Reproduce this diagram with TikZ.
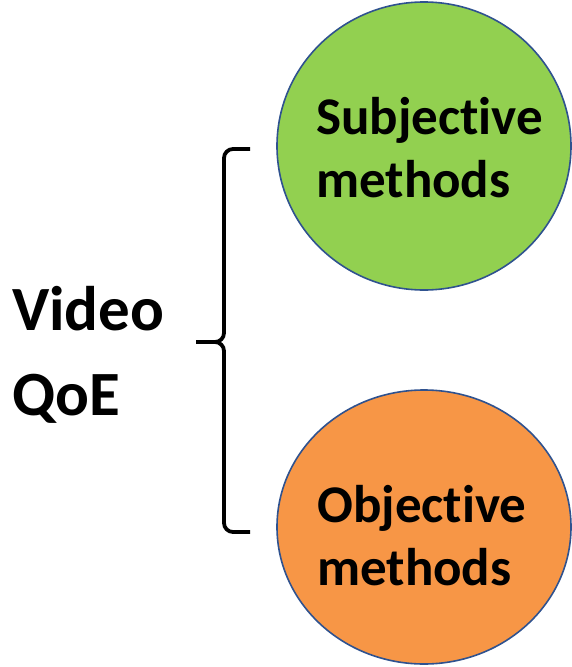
\documentclass[tikz,border=0pt]{standalone}
\usepackage{fontspec}
\setmainfont[Ligatures=NoCommon]{Carlito}
\usepackage{tikz}
\usetikzlibrary{shapes.geometric}

\definecolor{subjgreen}{HTML}{92D050}
\definecolor{objorange}{HTML}{F79646}
\definecolor{rimblue}{HTML}{2F528F}

\begin{document}
\begin{tikzpicture}[x=1pt, y=-1pt,
        method/.style={draw=rimblue, line width=1.6pt, ellipse, inner sep=0pt},
        label/.style={inner sep=0pt, align=left, anchor=base west, font=\bfseries\fontsize{53}{63}\selectfont},
        brace/.style={line width=3.8pt, rounded corners=9pt}]
        \useasboundingbox (0,0) rectangle (571,667);

        % Methods
        \node[method, fill=subjgreen, minimum width=294pt, minimum height=288pt] (subj) at (424,146) {};
        \node[method, fill=objorange, minimum width=294pt, minimum height=274pt] (obj) at (424,527) {};
        \node[label] (subjtxt) at (316,197) {Subjective\\methods};
        \node[label] (objtxt) at (317,585) {Objective\\methods};

        % Topic
        \node[label, font=\bfseries\fontsize{63}{85}\selectfont] (qoe) at (12,415) {Video\\QoE};

        % Brace
        \coordinate (bt) at (250,149);
        \coordinate (bm) at (224,342);
        \coordinate (tip) at (196,342);
        \coordinate (bb) at (250,532);
        \draw[brace] (bt) -- (bt -| bm) -- (bm) -- (tip);
        \draw[brace] (tip) -- (bm) -- (bb -| bm) -- (bb);
    \end{tikzpicture}
\end{document}
